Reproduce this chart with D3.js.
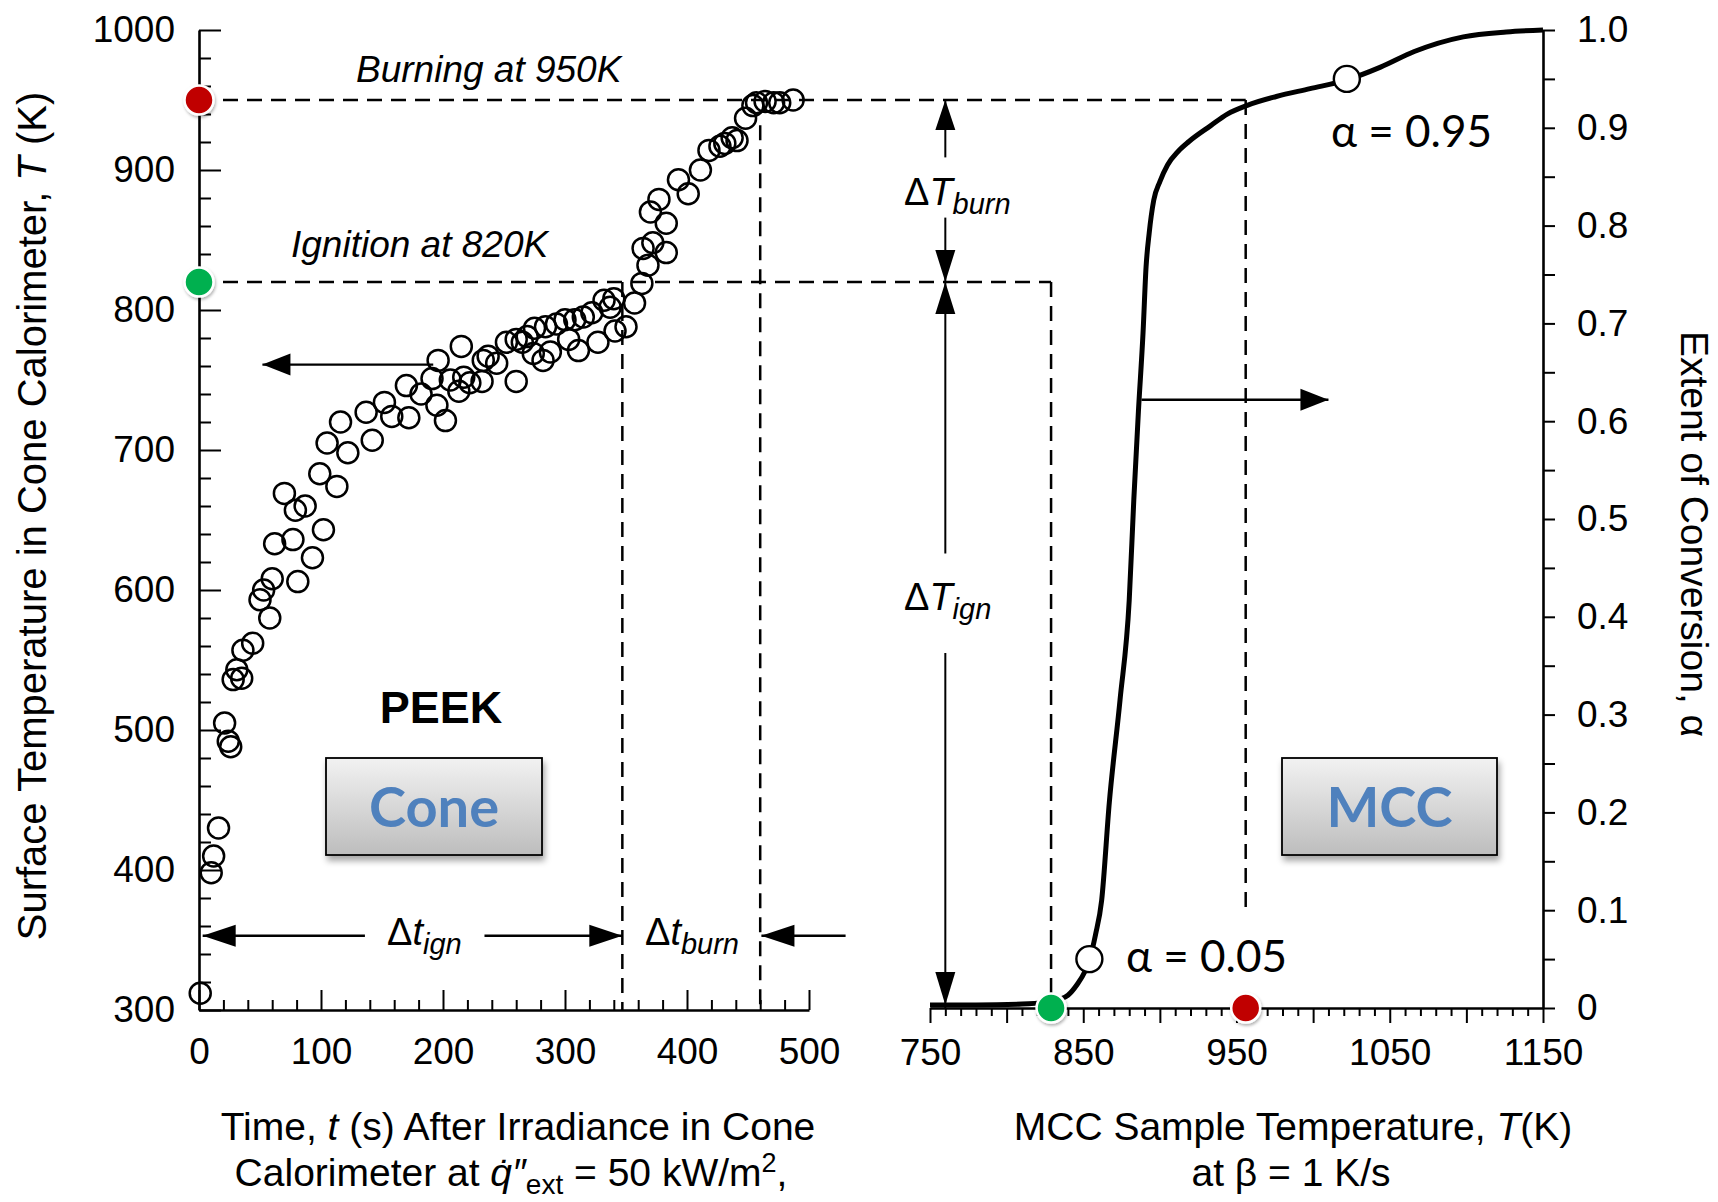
<!DOCTYPE html>
<html>
<head>
<meta charset="utf-8">
<script src="https://cdn.jsdelivr.net/npm/d3@7"></script>
<style>
  html, body { margin: 0; padding: 0; background: #fff; }
  svg { display: block; font-family: "Liberation Sans", Arial, sans-serif; }
  .axis path, .axis line { stroke: #000; }
  .axis text { font-family: "Liberation Sans", Arial, sans-serif; font-size: 37px; fill: #000; }
</style>
</head>
<body>
<div id="chart"></div>
<script>
// PEEK surface temperature in the cone calorimeter (t in s, T in K)
const coneTime = [1, 10, 12, 16, 21, 24, 26, 28, 31, 35, 36, 44, 50, 53, 58, 60, 62, 70, 77, 79, 81, 87, 93,
  99, 102, 105, 113, 116, 122, 137, 142, 152, 158, 170, 172, 182, 191, 195, 196, 202, 206, 213, 215, 217,
  222, 232, 233, 237, 244, 252, 260, 260, 265, 269, 274, 275, 282, 284, 288, 293, 300, 303, 308, 311, 315,
  322, 327, 332, 337, 340, 341, 350, 357, 363, 364, 368, 370, 372, 377, 383, 383, 393, 401, 411, 418, 427,
  431, 437, 441, 448, 454, 457, 464, 471, 476, 487];
const coneTemp = [312, 398, 410, 430, 505, 492, 488, 536, 543, 537, 557, 562, 593, 600, 580, 608, 633, 669, 636, 657, 606, 660, 623,
  683, 643, 705, 674, 720, 698, 727, 707, 734, 724, 746, 723, 740, 751, 732, 764, 721, 750, 742, 774, 752,
  748, 749, 764, 767, 762, 777, 749, 779, 777, 781, 769, 787, 764, 788, 770, 790, 793, 779, 793, 771, 795,
  798, 777, 807, 802, 808, 785, 788, 805, 819, 844, 832, 870, 848, 879, 841, 862, 893, 883, 900, 914, 917,
  919, 923, 921, 937, 946, 948, 949, 948, 948, 950];

// MCC extent of conversion vs sample temperature
const mccTemp = [750, 780, 810, 825, 835, 840, 846, 851, 854, 858, 862, 867, 874, 880, 883, 886, 889, 891,
  893, 896, 900, 905, 912, 919, 933, 944, 957, 976, 998, 1022, 1044, 1066, 1098, 1126, 1150];
const mccAlpha = [0.003, 0.003, 0.004, 0.006, 0.009, 0.013, 0.024, 0.037, 0.049, 0.075, 0.11, 0.21, 0.315, 0.417, 0.52, 0.61, 0.69, 0.758,
  0.792, 0.826, 0.845, 0.862, 0.876, 0.886, 0.902, 0.914, 0.923, 0.932, 0.940, 0.949, 0.962, 0.978, 0.993, 0.998, 1.0];

const tempTicks = [300, 400, 500, 600, 700, 800, 900, 1000];
const timeTicks = [0, 100, 200, 300, 400, 500];
const mccTicks = [750, 850, 950, 1050, 1150];
const alphaTicks = [0, 0.1, 0.2, 0.3, 0.4, 0.5, 0.6, 0.7, 0.8, 0.9, 1.0];
const alphaTickLabels = ["0", "0.1", "0.2", "0.3", "0.4", "0.5", "0.6", "0.7", "0.8", "0.9", "1.0"];

// key temperatures / times marked on the chart
const ignitionTemp = 820, burningTemp = 950;
const coneIgnTime = 347, coneBurnTime = 460;
const mccIgnTemp = 829, mccBurnTemp = 956;
const alphaMarkTemp = [854, 1022];
const alphaMarkValue = [0.05, 0.95];
const alphaMarkLabels = ["\u03b1 = 0.05", "\u03b1 = 0.95"];

const W = 1718, H = 1202;
const svg = d3.select("#chart").append("svg").attr("width", W).attr("height", H);

const xCone = d3.scaleLinear([0, 500], [199, 809]);
const yTemp = d3.scaleLinear([300, 1000], [1010, 30]);
const xMcc = d3.scaleLinear([750, 1150], [930, 1543]);
const yAlpha = d3.scaleLinear([0, 1], [1008, 30]);

const defs = svg.append("defs");
const grad = defs.append("linearGradient").attr("id", "boxGrad").attr("x1", 0).attr("y1", 0).attr("x2", 0).attr("y2", 1);
grad.append("stop").attr("offset", "0%").attr("stop-color", "#f2f2f2");
grad.append("stop").attr("offset", "100%").attr("stop-color", "#bdbdbd");
defs.append("filter").attr("id", "shadow").attr("x", "-10%").attr("y", "-10%").attr("width", "130%").attr("height", "140%")
  .append("feDropShadow").attr("dx", 2).attr("dy", 5).attr("stdDeviation", 3).attr("flood-color", "#000").attr("flood-opacity", 0.35);
defs.append("filter").attr("id", "dotShadow").attr("x", "-50%").attr("y", "-50%").attr("width", "200%").attr("height", "200%")
  .append("feDropShadow").attr("dx", 1).attr("dy", 2).attr("stdDeviation", 1.5).attr("flood-color", "#000").attr("flood-opacity", 0.3);

function styleAxis(g, width) {
  g.attr("class", "axis");
  g.select(".domain").attr("stroke-width", 2.6);
  g.selectAll(".tick line").attr("stroke-width", width || 2);
  return g;
}

// ---- left panel axes (cone) ----
svg.append("g").attr("transform", `translate(${xCone(0)},0)`)
  .call(d3.axisLeft(yTemp).tickValues(d3.range(300, 1001, 20).filter(v => v % 100)).tickSize(-12).tickFormat(""))
  .call(g => g.select(".domain").remove())
  .call(styleAxis);
svg.append("g").attr("transform", `translate(${xCone(0)},0)`)
  .call(d3.axisLeft(yTemp).tickValues(tempTicks).tickSizeInner(-22).tickSizeOuter(0).tickPadding(24).tickFormat(d3.format("d")))
  .call(styleAxis);

svg.append("g").attr("transform", `translate(0,${yTemp(300)})`)
  .call(d3.axisBottom(xCone).tickValues(d3.range(0, 501, 20).filter(v => v % 100)).tickSize(-10).tickFormat(""))
  .call(g => g.select(".domain").remove())
  .call(styleAxis);
svg.append("g").attr("transform", `translate(0,${yTemp(300)})`)
  .call(d3.axisBottom(xCone).tickValues(timeTicks).tickSizeInner(-20).tickSizeOuter(0).tickPadding(28))
  .call(styleAxis);

// ---- right panel axes (MCC) ----
svg.append("g").attr("transform", `translate(0,${yAlpha(0)})`)
  .call(d3.axisBottom(xMcc).tickValues(d3.range(750, 1151, 10).filter(v => v % 50)).tickSize(8).tickFormat(""))
  .call(g => g.select(".domain").remove())
  .call(styleAxis);
svg.append("g").attr("transform", `translate(0,${yAlpha(0)})`)
  .call(d3.axisBottom(xMcc).tickValues(d3.range(750, 1151, 50)).tickSizeInner(15).tickSizeOuter(0).tickPadding(16)
    .tickFormat(d => mccTicks.includes(d) ? d : ""))
  .call(styleAxis);

svg.append("g").attr("transform", `translate(${xMcc(1150)},0)`)
  .call(d3.axisRight(yAlpha).tickValues(d3.range(1, 20, 2).map(i => i / 20)).tickSize(12).tickFormat(""))
  .call(g => g.select(".domain").remove())
  .call(styleAxis);
svg.append("g").attr("transform", `translate(${xMcc(1150)},0)`)
  .call(d3.axisRight(yAlpha).tickValues(alphaTicks).tickSizeInner(12).tickSizeOuter(0).tickPadding(22)
    .tickFormat((d, i) => alphaTickLabels[i]))
  .call(styleAxis);

// ---- dashed guide lines ----
const dashes = svg.append("g").attr("fill", "none").attr("stroke", "#000").attr("stroke-width", 2.5)
  .attr("stroke-dasharray", "15 9");
dashes.append("line").attr("x1", xCone(0)).attr("x2", xMcc(mccBurnTemp))
  .attr("y1", yTemp(burningTemp)).attr("y2", yTemp(burningTemp));
dashes.append("line").attr("x1", xCone(0)).attr("x2", xMcc(mccIgnTemp))
  .attr("y1", yTemp(ignitionTemp)).attr("y2", yTemp(ignitionTemp));
dashes.append("line").attr("x1", xCone(coneIgnTime)).attr("x2", xCone(coneIgnTime))
  .attr("y1", yTemp(ignitionTemp)).attr("y2", yTemp(300));
dashes.append("line").attr("x1", xCone(coneBurnTime)).attr("x2", xCone(coneBurnTime))
  .attr("y1", yTemp(932)).attr("y2", yTemp(300));
dashes.append("line").attr("x1", xMcc(mccIgnTemp)).attr("x2", xMcc(mccIgnTemp))
  .attr("y1", yTemp(ignitionTemp)).attr("y2", yAlpha(0));
dashes.append("line").attr("x1", xMcc(mccBurnTemp)).attr("x2", xMcc(mccBurnTemp))
  .attr("y1", yTemp(burningTemp)).attr("y2", yAlpha(0.095));

// ---- arrows ----
const arrows = svg.append("g");
function shaft(x1, y1, x2, y2, w) {
  arrows.append("line").attr("x1", x1).attr("y1", y1).attr("x2", x2).attr("y2", y2)
    .attr("stroke", "#000").attr("stroke-width", w || 2.4);
}
function head(x, y, dir, len, half) {
  len = len || 32; half = half || 10;
  const pts = {
    left: [[x, y], [x + len, y - half], [x + len, y + half]],
    right: [[x, y], [x - len, y - half], [x - len, y + half]],
    up: [[x, y], [x - half, y + len], [x + half, y + len]],
    down: [[x, y], [x - half, y - len], [x + half, y - len]]
  }[dir];
  arrows.append("path").attr("d", "M" + pts.join("L") + "Z").attr("fill", "#000");
}

// cone data belongs to left axis, MCC curve to right axis
shaft(xCone(52), yTemp(761), xCone(192), yTemp(761));
head(xCone(52), yTemp(761), "left", 28, 11);
shaft(xMcc(888), yAlpha(0.622), xMcc(1010), yAlpha(0.622));
head(xMcc(1010), yAlpha(0.622), "right", 28, 11);

// delta t along the time axis
const dtY = yTemp(353);
shaft(xCone(3), dtY, xCone(136), dtY);
head(xCone(3), dtY, "left", 33, 11);
shaft(xCone(234), dtY, xCone(347), dtY);
head(xCone(347), dtY, "right", 33, 11);
shaft(xCone(461), dtY, xCone(530), dtY);
head(xCone(461), dtY, "left", 33, 11);

// delta T on the temperature scale
const dTx = xMcc(760);
shaft(dTx, yTemp(950), dTx, yTemp(909), 2);
head(dTx, yTemp(950), "up", 30, 10);
shaft(dTx, yTemp(866), dTx, yTemp(820), 2);
head(dTx, yTemp(820), "down", 32, 10);
shaft(dTx, yTemp(820), dTx, yTemp(626), 2);
head(dTx, yTemp(820), "up", 32, 10);
shaft(dTx, yTemp(555), dTx, yAlpha(0), 2);
head(dTx, yAlpha(0) - 3, "down", 33, 10);

// ---- data ----
svg.append("g").selectAll("circle")
  .data(coneTime.map((t, i) => [t, coneTemp[i]]))
  .join("circle")
  .attr("cx", d => xCone(d[0]))
  .attr("cy", d => yTemp(d[1]))
  .attr("r", 10.5)
  .attr("fill", "none")
  .attr("stroke", "#000")
  .attr("stroke-width", 2.5);

const line = d3.line().x(d => xMcc(d)).y((d, i) => yAlpha(mccAlpha[i])).curve(d3.curveMonotoneX);
svg.append("path").attr("d", line(mccTemp))
  .attr("fill", "none").attr("stroke", "#000").attr("stroke-width", 5).attr("stroke-linejoin", "round");

svg.append("g").selectAll("circle")
  .data(alphaMarkTemp.map((T, i) => [T, alphaMarkValue[i]]))
  .join("circle")
  .attr("cx", d => xMcc(d[0]))
  .attr("cy", d => yAlpha(d[1]))
  .attr("r", 13)
  .attr("fill", "#fff").attr("stroke", "#000").attr("stroke-width", 2.4);

// coloured markers for ignition (green) and burning (red)
const markers = [
  { x: xCone(0), y: yTemp(burningTemp), c: "#c00000" },
  { x: xCone(0), y: yTemp(ignitionTemp), c: "#00b050" },
  { x: xMcc(mccIgnTemp), y: yAlpha(0), c: "#00b050" },
  { x: xMcc(mccBurnTemp), y: yAlpha(0), c: "#c00000" }
];
svg.append("g").selectAll("circle").data(markers).join("circle")
  .attr("cx", d => d.x).attr("cy", d => d.y).attr("r", 14.5)
  .attr("fill", d => d.c).attr("stroke", "#fff").attr("stroke-width", 2.5).attr("filter", "url(#dotShadow)");

// ---- annotation text ----
const ann = svg.append("g").attr("fill", "#000");
ann.append("text").attr("x", 356).attr("y", 82).attr("font-size", 37).attr("font-style", "italic").text("Burning at 950K");
ann.append("text").attr("x", 291).attr("y", 257).attr("font-size", 37).attr("font-style", "italic").text("Ignition at 820K");

function deltaLabel(x, y, sym, sub) {
  const t = ann.append("text").attr("x", x).attr("y", y).attr("font-size", 38);
  t.append("tspan").text("\u0394");
  t.append("tspan").attr("font-style", "italic").text(sym);
  t.append("tspan").attr("font-style", "italic").attr("font-size", 29).attr("dy", 9).text(sub);
}
deltaLabel(387, 945, "t", "ign");
deltaLabel(645, 945, "t", "burn");
deltaLabel(904, 205, "T", "burn");
deltaLabel(904, 610, "T", "ign");

ann.append("text").attr("x", 441).attr("y", 723).attr("text-anchor", "middle")
  .attr("font-size", 45).attr("font-weight", "bold").text("PEEK");

ann.selectAll(".amark").data(alphaMarkLabels).join("text")
  .attr("class", "amark")
  .attr("x", (d, i) => i === 0 ? 1126 : 1331)
  .attr("y", (d, i) => i === 0 ? 972 : 147)
  .attr("font-family", "Lato, 'Open Sans', sans-serif").attr("font-size", 44)
  .text(d => d);

// ---- boxes ----
const boxes = [{ label: "Cone", x0: 326, x1: 542 }, { label: "MCC", x0: 1282, x1: 1497 }];
const bg = svg.append("g").selectAll("g").data(boxes).join("g");
bg.append("rect").attr("x", d => d.x0).attr("y", 758).attr("width", d => d.x1 - d.x0).attr("height", 97)
  .attr("fill", "url(#boxGrad)").attr("stroke", "#000").attr("stroke-width", 1.8).attr("filter", "url(#shadow)");
bg.append("text").attr("x", d => (d.x0 + d.x1) / 2).attr("y", 827).attr("text-anchor", "middle")
  .attr("font-family", "Lato, 'Open Sans', sans-serif").attr("font-weight", "bold").attr("font-size", 56)
  .attr("fill", "#4f81bd").text(d => d.label);

// ---- axis titles ----
const titles = svg.append("g").attr("font-size", 39).attr("fill", "#000");
let tt = titles.append("text").attr("text-anchor", "middle").attr("font-size", 40)
  .attr("transform", "translate(46,516) rotate(-90)");
tt.append("tspan").text("Surface Temperature in Cone Calorimeter, ");
tt.append("tspan").attr("font-style", "italic").text("T");
tt.append("tspan").text(" (K)");

titles.append("text").attr("text-anchor", "middle").attr("transform", "translate(1681,534) rotate(90)")
  .text("Extent of Conversion, \u03b1");

tt = titles.append("text").attr("x", 518).attr("y", 1140).attr("text-anchor", "middle");
tt.append("tspan").text("Time, ");
tt.append("tspan").attr("font-style", "italic").text("t");
tt.append("tspan").text(" (s) After Irradiance in Cone");

tt = titles.append("text").attr("x", 511).attr("y", 1186).attr("text-anchor", "middle");
tt.append("tspan").text("Calorimeter at ");
tt.append("tspan").attr("font-style", "italic").text("q\u0307\u2033");
tt.append("tspan").attr("font-size", 28).attr("dy", 8).text("ext");
tt.append("tspan").attr("dy", -8).text(" = 50 kW/m");
tt.append("tspan").attr("font-size", 27).attr("dy", -14).text("2");
tt.append("tspan").attr("dy", 14).text(",");

tt = titles.append("text").attr("x", 1293).attr("y", 1140).attr("text-anchor", "middle");
tt.append("tspan").text("MCC Sample Temperature, ");
tt.append("tspan").attr("font-style", "italic").text("T");
tt.append("tspan").text("(K)");

titles.append("text").attr("x", 1291).attr("y", 1186).attr("text-anchor", "middle").text("at \u03b2 = 1 K/s");
</script>
</body>
</html>
